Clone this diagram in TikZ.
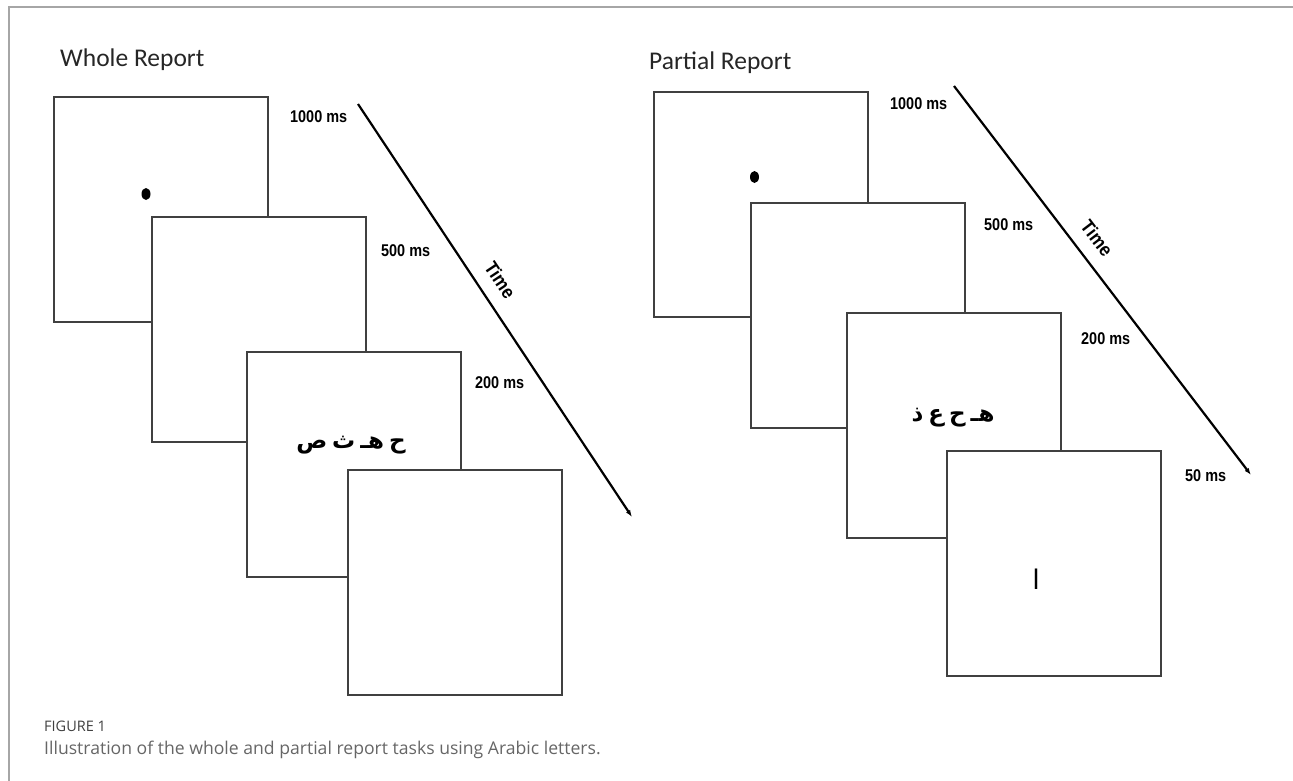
\documentclass[tikz,border=0pt]{standalone}
\usepackage{fontspec}
\setmainfont{Liberation Sans}
\newfontfamily\titlefont{Carlito}
\newfontfamily\capfont{Open Sans}
\newfontfamily\arabicfont[Script=Arabic]{DejaVu Sans}
\TeXXeTstate=1
\usetikzlibrary{arrows.meta,shapes.geometric}

\begin{document}
\begin{tikzpicture}[
    x=1pt,y=-1pt,
    scr/.style={rectangle,draw=black!75,line width=2pt,fill=white,minimum width=214pt,minimum height=225pt,anchor=north west,inner sep=0pt},
    ms/.style={font=\bfseries\fontsize{17}{17}\selectfont,xscale=0.85,anchor=west,inner sep=0pt},
    ttl/.style={font=\titlefont\fontsize{25.5}{25.5}\selectfont,text=black!85,anchor=base west,inner sep=0pt},
    ar/.style={font=\arabicfont\bfseries\fontsize{23}{23}\selectfont,inner sep=0pt},
    fix/.style={fill=black,ellipse,minimum width=9pt,minimum height=12pt,inner sep=0pt},
    timeln/.style={line width=2.2pt,-{Latex[length=7pt,width=5pt]}},
    tm/.style={pos=#1,sloped,above=13pt,font=\bfseries\fontsize{19}{19}\selectfont,xscale=0.9,inner sep=0pt}
]
    \useasboundingbox (0,0) rectangle (1293,781);
    \draw[black!35,line width=1.2pt] (9,781) -- (9,7) -- (1293,7);

    % whole report
    \node[ttl] (wt) at (60,67) {Whole Report};
    \node[scr] (w1) at (53,96) {};
    \node[fix] (wdot) at (146,194) {};
    \node[scr] (w2) at (151,216) {};
    \node[scr] (w3) at (246,351) {};
    \node[ar] (wlet) at (351,445) {\beginR ح\hspace{5pt}هـ\hspace{5pt}ث\hspace{5pt}ص\endR};
    \node[scr] (w4) at (347,469) {};
    \node[ms] (wms1) at (290,117) {1000 ms};
    \node[ms] (wms2) at (381,251) {500 ms};
    \node[ms] (wms3) at (475,383) {200 ms};
    \coordinate (wa) at (358,104);
    \coordinate (wb) at (632,517);
    \draw[timeln] (wa) -- (wb) node[tm=0.455] {Time};

    % partial report
    \node[ttl] (pt) at (649,70) {Partial Report};
    \node[scr] (p1) at (653,91) {};
    \node[fix] (pdot) at (754.5,177) {};
    \node[scr] (p2) at (750,202) {};
    \node[scr] (p3) at (846,312) {};
    \node[ar] (plet) at (953,418) {\beginR هـ\hspace{5pt}ح\hspace{5pt}ع\hspace{5pt}ذ\endR};
    \node[scr] (p4) at (946,450) {};
    \node[ar,font=\arabicfont\fontsize{27}{27}\selectfont] (pcue) at (1036,579) {\beginR ا\endR};
    \node[ms] (pms1) at (890,104) {1000 ms};
    \node[ms] (pms2) at (984,225) {500 ms};
    \node[ms] (pms3) at (1081,339) {200 ms};
    \node[ms] (pms4) at (1185,476) {50 ms};
    \coordinate (pa) at (954,86);
    \coordinate (pb) at (1251,475);
    \draw[timeln] (pa) -- (pb) node[tm=0.425] {Time};

    % caption
    \node[font=\capfont\fontsize{14.5}{14.5}\selectfont,text=black!75,anchor=west,inner sep=0pt] (fig) at (44,726) {FIGURE 1};
    \node[font=\capfont\fontsize{17.6}{17.6}\selectfont,text=black!60,anchor=west,inner sep=0pt] (cap) at (44,750) {Illustration of the whole and partial report tasks using Arabic letters.};
\end{tikzpicture}
\end{document}
